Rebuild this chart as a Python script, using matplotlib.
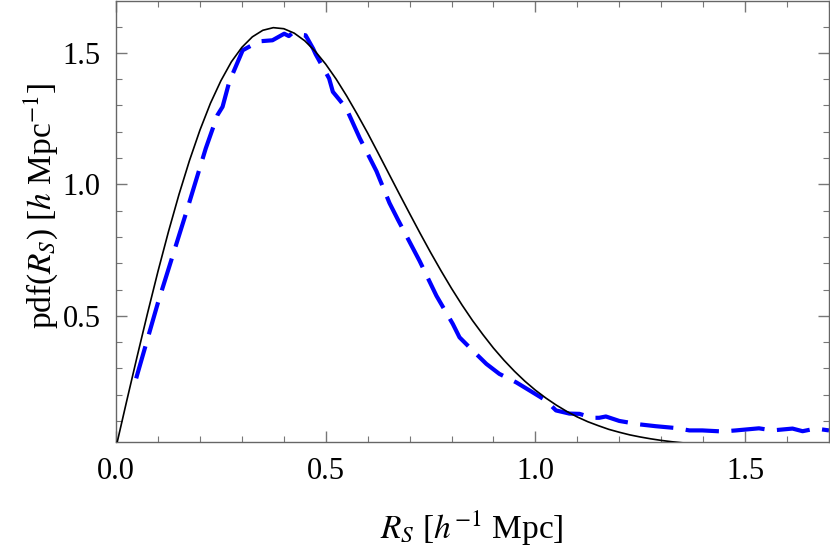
import numpy as np
import matplotlib
matplotlib.use('Agg')
import matplotlib.pyplot as plt
from matplotlib.ticker import MultipleLocator

# model pdf (solid black)
rs_model = [0.0, 0.025, 0.05, 0.075, 0.10, 0.125, 0.15, 0.175, 0.20, 0.225, 0.25, 0.275,
            0.30, 0.325, 0.35, 0.375, 0.40, 0.425, 0.45, 0.475, 0.50, 0.525, 0.55, 0.575,
            0.60, 0.625, 0.65, 0.675, 0.70, 0.725, 0.75, 0.775, 0.80, 0.825, 0.85, 0.875,
            0.90, 0.925, 0.95, 0.975, 1.00, 1.025, 1.05, 1.075, 1.10, 1.125, 1.15, 1.175,
            1.20, 1.225, 1.25, 1.275, 1.30, 1.325, 1.35, 1.375, 1.40, 1.425, 1.45, 1.50,
            1.55, 1.60, 1.65, 1.70]
pdf_model = [0.0, 0.173, 0.343, 0.509, 0.669, 0.820, 0.961, 1.090, 1.206, 1.308, 1.394, 1.466,
             1.521, 1.561, 1.586, 1.596, 1.592, 1.575, 1.546, 1.506, 1.457, 1.400, 1.336, 1.267,
             1.195, 1.119, 1.042, 0.965, 0.889, 0.814, 0.741, 0.671, 0.604, 0.541, 0.482, 0.428,
             0.377, 0.331, 0.289, 0.251, 0.217, 0.187, 0.160, 0.136, 0.115, 0.097, 0.082, 0.068,
             0.057, 0.047, 0.039, 0.032, 0.026, 0.021, 0.017, 0.014, 0.011, 0.009, 0.007, 0.004,
             0.003, 0.002, 0.001, 0.0005]

# measured pdf (blue dashed)
rs_data = [0.048, 0.10, 0.167, 0.184, 0.214, 0.242, 0.254, 0.27, 0.302, 0.341, 0.373, 0.401,
           0.412, 0.42, 0.437, 0.452, 0.47, 0.476, 0.508, 0.517, 0.533, 0.549, 0.581, 0.621,
           0.652, 0.672, 0.724, 0.764, 0.803, 0.819, 0.851, 0.883, 0.914, 0.954, 0.986,
           1.025, 1.049, 1.081, 1.105, 1.136, 1.152, 1.168, 1.2, 1.248, 1.287, 1.335,
           1.367, 1.398, 1.446, 1.478, 1.533, 1.565, 1.613, 1.637, 1.668, 1.70]
pdf_data = [0.262, 0.55, 0.891, 0.98, 1.137, 1.264, 1.295, 1.39, 1.51, 1.544, 1.548, 1.573,
            1.564, 1.575, 1.569, 1.567, 1.516, 1.495, 1.403, 1.352, 1.321, 1.289, 1.176, 1.05,
            0.929, 0.866, 0.708, 0.576, 0.469, 0.418, 0.367, 0.317, 0.279, 0.247, 0.216,
            0.178, 0.140, 0.128, 0.127, 0.112, 0.112, 0.117, 0.100, 0.087, 0.080, 0.073,
            0.064, 0.064, 0.060, 0.064, 0.072, 0.064, 0.071, 0.061, 0.071, 0.064]

plt.rcParams['font.family'] = ['Liberation Serif', 'DejaVu Serif']
plt.rcParams['mathtext.fontset'] = 'stix'

fig = plt.figure(figsize=(8.3, 5.54), dpi=100)
ax = fig.add_axes([0.1398, 0.2022, 0.8590, 0.7958])

ax.plot(rs_model, pdf_model, color='black', lw=1.2, zorder=3)
ax.plot(rs_data, pdf_data, color='#0000ff', lw=3, dashes=(8, 3), zorder=2)

ax.set_xlim(0, 1.7)
ax.set_ylim(0.02, 1.697)
ax.set_xticks([0.0, 0.5, 1.0, 1.5])
ax.set_xticklabels(['0.0', '0.5', '1.0', '1.5'])
ax.set_yticks([0.5, 1.0, 1.5])
ax.set_yticklabels(['0.5', '1.0', '1.5'])
ax.xaxis.set_minor_locator(MultipleLocator(0.1))
ax.yaxis.set_minor_locator(MultipleLocator(0.1))
ax.tick_params(which='both', direction='in', top=True, right=True, color='#777777',
               labelsize=22)
ax.tick_params(which='major', length=8, width=1, pad=11)
ax.tick_params(which='minor', length=4, width=0.8)
for s in ax.spines.values():
    s.set_color('#666666')
    s.set_linewidth(1)

ax.set_xlabel(r'$R_S$ [$h^{-1}$ Mpc]', fontsize=24, va='center')
ax.set_ylabel(r'pdf($R_S$) [$h$ Mpc$^{-1}$]', fontsize=24, va='center')
ax.xaxis.set_label_coords(0.499, -0.195)
ax.yaxis.set_label_coords(-0.106, 0.536)

fig.savefig('out.png', dpi=100)
